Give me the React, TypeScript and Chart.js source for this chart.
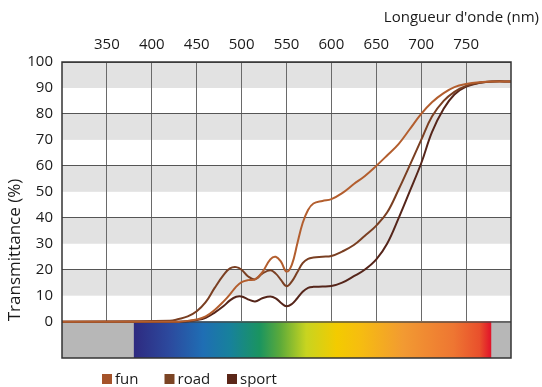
import React, { useEffect, useRef } from 'react';
import { Chart, registerables } from 'chart.js';

Chart.register(...registerables);

// ---- data ----
const wavelengths = [300, 420, 430, 440, 450, 460, 470, 480, 487, 494, 500, 507, 515, 523, 532, 538, 544, 550, 556, 562, 568, 574, 580, 590, 600, 612, 625, 637, 650, 662, 675, 687, 700, 712, 725, 737, 750, 765, 780, 800];
const fun = [0, 0, 0, 0.3, 0.8, 2, 4.5, 7.8, 10.5, 13.5, 15.2, 16, 16.3, 19, 24, 25, 23, 19.3, 22, 30, 38, 43, 45.5, 46.5, 47.2, 49.5, 53, 56, 60, 64, 68.5, 74, 80, 84.5, 88, 90.3, 91.5, 92.2, 92.5, 92.5];
const road = [0, 0.3, 1, 2, 4, 7.5, 13, 18, 20.5, 21, 20, 17.5, 16.3, 18.5, 19.8, 18.5, 16, 13.6, 15.5, 19, 22.5, 24.2, 24.7, 25, 25.3, 27, 29.5, 33, 37, 42, 51, 60, 70, 79, 85, 88.5, 90.8, 92, 92.5, 92.5];
const sport = [0, 0, 0, 0.2, 0.6, 1.5, 3.5, 6, 8.2, 9.6, 9.7, 8.6, 7.8, 9, 9.7, 9, 7.2, 5.9, 6.8, 9, 11.5, 13, 13.4, 13.5, 13.7, 15, 17.5, 20, 24, 30, 40, 50, 61, 73, 82, 87.5, 90.5, 92, 92.5, 92.5];
const seriesNames = ['fun', 'road', 'sport'];
const xTicks = [350, 400, 450, 500, 550, 600, 650, 700, 750];
const yTicks = [0, 10, 20, 30, 40, 50, 60, 70, 80, 90, 100];
const xTitle = "Longueur d'onde (nm)";
const yTitle = 'Transmittance (%)';
const spectrumRange = [380, 778];
const spectrumStops = [380, 420, 457, 487, 520, 543, 572, 606, 632, 680, 736, 765, 775, 778];
const spectrumColors = ['#2e2a80', '#2c4a9e', '#1f6eb4', '#17819c', '#1a9460', '#5caa3a', '#c8d420', '#f3cb00', '#f6bd10', '#f29a32', '#ee7632', '#e9502c', '#e3202a', '#e0142a'];

const FONT = '"Open Sans", sans-serif';
const lineColors = ['#b35e2e', '#7a3f22', '#55251a'];
const legendColors = ['#a5532a', '#7b4424', '#5b2618'];

const decor = {
  id: 'decor',
  beforeDraw(chart: any) {
    const { ctx, chartArea: a, scales } = chart;
    const y = scales.y;
    ctx.save();
    ctx.fillStyle = '#ffffff';
    ctx.fillRect(0, 0, chart.width, chart.height);
    ctx.fillStyle = '#e2e2e2';
    for (let v = 10; v < 100; v += 20) {
      const top = y.getPixelForValue(v + 10);
      const bot = y.getPixelForValue(v);
      ctx.fillRect(a.left, top, a.right - a.left, bot - top);
    }
    ctx.restore();
  },
  beforeDatasetsDraw(chart: any) {
    const { ctx, chartArea: a, scales } = chart;
    const { x, y } = scales;
    const y0 = y.getPixelForValue(0);
    ctx.save();
    ctx.fillStyle = '#b7b7b7';
    ctx.fillRect(a.left, y0, a.right - a.left, a.bottom - y0);
    const x1 = x.getPixelForValue(spectrumRange[0]);
    const x2 = x.getPixelForValue(spectrumRange[1]);
    const g = ctx.createLinearGradient(x1, 0, x2, 0);
    spectrumStops.forEach((s, i) => {
      g.addColorStop((s - spectrumRange[0]) / (spectrumRange[1] - spectrumRange[0]), spectrumColors[i]);
    });
    ctx.fillStyle = g;
    ctx.fillRect(x1, y0, x2 - x1, a.bottom - y0);
    ctx.strokeStyle = '#444';
    ctx.lineWidth = 1;
    ctx.beginPath();
    ctx.moveTo(a.left, y0 + 0.5);
    ctx.lineTo(a.right, y0 + 0.5);
    ctx.stroke();
    ctx.restore();
  },
  afterDraw(chart: any) {
    const { ctx, chartArea: a } = chart;
    ctx.save();
    ctx.strokeStyle = '#333';
    ctx.lineWidth = 1.5;
    ctx.strokeRect(a.left, a.top, a.right - a.left, a.bottom - a.top);
    ctx.fillStyle = '#1a1a1a';
    ctx.font = `15px ${FONT}`;
    ctx.textAlign = 'right';
    ctx.textBaseline = 'middle';
    ctx.fillText(xTitle, 539, 18);
    ctx.save();
    ctx.translate(15, 250);
    ctx.rotate(-Math.PI / 2);
    ctx.textAlign = 'center';
    ctx.font = `17px ${FONT}`;
    ctx.fillText(yTitle, 0, 0);
    ctx.restore();
    ctx.font = `15px ${FONT}`;
    ctx.textAlign = 'left';
    ctx.textBaseline = 'alphabetic';
    seriesNames.forEach((name, i) => {
      const lx = 102 + i * 62.5;
      ctx.fillStyle = legendColors[i];
      ctx.fillRect(lx, 374, 10, 10);
      ctx.fillStyle = '#1a1a1a';
      ctx.fillText(name, lx + 13, 384);
    });
    ctx.restore();
  },
};

export default function App() {
  const ref = useRef<HTMLCanvasElement | null>(null);
  useEffect(() => {
    if (!ref.current) return;
    const series = [fun, road, sport];
    const chart = new Chart(ref.current, {
      type: 'line',
      data: {
        datasets: series.map((s, k) => ({
          label: seriesNames[k],
          data: wavelengths.map((w, i) => ({ x: w, y: s[i] })),
          borderColor: lineColors[k],
          backgroundColor: lineColors[k],
          borderWidth: 2,
          pointRadius: 0,
          fill: false,
          tension: 0.4,
        })),
      },
      options: {
        animation: false,
        responsive: false,
        events: [],
        layout: { padding: { left: 0, top: 0, right: 31, bottom: 29 } },
        plugins: { legend: { display: false }, tooltip: { enabled: false } },
        scales: {
          x: {
            type: 'linear',
            position: 'top',
            min: 300,
            max: 800,
            afterBuildTicks: (s: any) => { s.ticks = xTicks.map((v) => ({ value: v })); },
            afterFit: (s: any) => { s.height = 62; },
            ticks: { font: { family: FONT, size: 15 }, color: '#1a1a1a', padding: 8, maxRotation: 0, autoSkip: false },
            grid: { color: '#6a6a6a', lineWidth: 1, drawTicks: false },
            border: { display: false },
          },
          y: {
            type: 'linear',
            min: -14,
            max: 100,
            afterBuildTicks: (s: any) => { s.ticks = yTicks.map((v) => ({ value: v })); },
            afterFit: (s: any) => { s.width = 62; },
            ticks: { font: { family: FONT, size: 15 }, color: '#1a1a1a', padding: 9, autoSkip: false },
            grid: {
              color: (c: any) => (c.tick && c.tick.value % 20 === 0 ? '#555555' : 'rgba(0,0,0,0)'),
              lineWidth: 1,
              drawTicks: false,
            },
            border: { display: false },
          },
        },
      },
      plugins: [decor],
    } as any);
    return () => chart.destroy();
  }, []);
  return (
    <div style={{ position: 'absolute', left: 0, top: 0, width: 542, height: 387 }}>
      <canvas ref={ref} width={542} height={387} style={{ display: 'block' }} />
    </div>
  );
}
